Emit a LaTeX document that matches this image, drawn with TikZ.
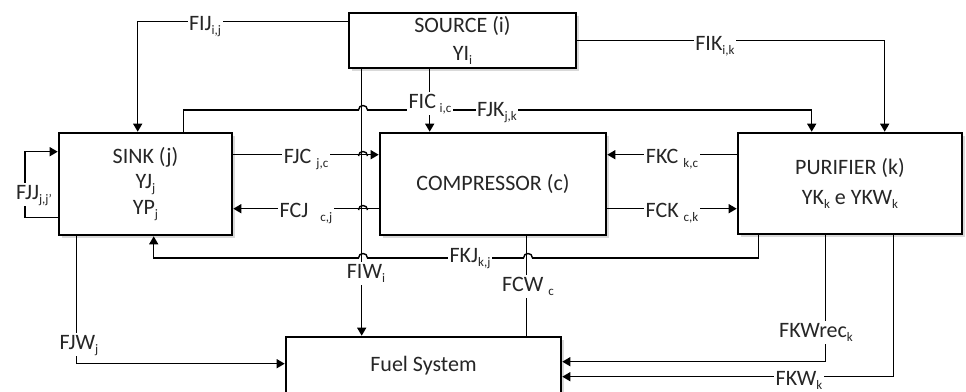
\documentclass[tikz,border=0pt]{standalone}
\usepackage{fontspec}
\setmainfont{Carlito}
\usetikzlibrary{arrows.meta,shadows}
\newcommand\sbs[1]{\raisebox{-4pt}{\fontsize{13}{13}\selectfont #1}}
\newcommand\hopat[2]{%
  \draw[white,line width=3pt] (#1-4,#2) -- (#1+4,#2);
  \draw[conn] (#1-4.5,#2) .. controls (#1-4.5,#2-6) and (#1+4.5,#2-6) .. (#1+4.5,#2);}
\begin{document}
\begin{tikzpicture}[x=1pt,y=-1pt,
  box/.style={draw, line width=2.6pt, fill=white, align=center, inner sep=0pt,
    drop shadow={shadow xshift=2.5pt,shadow yshift=-2.5pt,opacity=0.3},
    font=\fontsize{22}{26}\selectfont, text=black!85},
  conn/.style={line width=1.4pt},
  arr/.style={conn, -{Triangle[length=8pt,width=9pt]}},
  lbl/.style={fill=white, inner sep=1.5pt, text height=15pt, text depth=5pt,
    font=\fontsize{22}{24}\selectfont, text=black!85}]
\useasboundingbox (0,0) rectangle (966,391);
\clip (0,0) rectangle (966,391);

% boxes
\node[box, minimum width=227pt, minimum height=55pt] (src) at (462.5,40.5) {SOURCE (i)\\[2pt]YI\sbs{i}};
\node[box, minimum width=173pt, minimum height=102pt, font=\fontsize{22}{25.5}\selectfont] (sink) at (145.5,184) {SINK (j)\\YJ\sbs{j}\\YP\sbs{j}};
\node[box, minimum width=226pt, minimum height=102pt] (comp) at (493,184) {COMPRESSOR (c)};
\node[box, minimum width=224pt, minimum height=101pt] (pur) at (850,183.5) {PURIFIER (k)\\[4pt]YK\sbs{k} e YKW\sbs{k}};
\node[box, minimum width=275pt, minimum height=58pt] (fuel) at (423.5,366) {Fuel System};

% connectors
\draw[arr] ([yshift=-10pt]src.north west) -| ([xshift=80pt]sink.north west);
\draw[arr] ([yshift=-29pt]src.north east) -| ([xshift=148pt]pur.north west);
\draw[arr] ([xshift=82pt]src.south west) -- ([xshift=51pt]comp.north west);
\coordinate (jk) at (363,110);
\draw[arr] ([xshift=126pt]sink.north west) |- (jk) -| ([xshift=75pt]pur.north west);
\hopat{363}{110}
\draw[arr] ([yshift=-23pt]sink.north east) -- ([yshift=-23pt]comp.north west);
\hopat{363}{156}
\draw[arr] ([yshift=-77pt]comp.north west) -- ([yshift=-77pt]sink.north east);
\hopat{363}{210}
\draw[arr] ([yshift=-23pt]pur.north west) -- ([yshift=-23pt]comp.north east);
\draw[arr] ([yshift=-77pt]comp.north east) -- ([yshift=-77pt]pur.north west);
\coordinate (kj) at (600,258);
\draw[arr] ([xshift=22pt]pur.south west) |- (kj) -| ([xshift=96pt]sink.south west);
\hopat{528}{258}
\hopat{363}{258}
\draw[arr] ([xshift=14pt]src.south west) -- ([xshift=77pt]fuel.north west);
\draw[conn] ([xshift=148pt]comp.south west) -- ([xshift=242pt]fuel.north west);
\draw[arr] ([xshift=19pt]sink.south west) |- ([yshift=-28pt]fuel.north west);
\draw[arr] ([xshift=89pt]pur.south west) |- ([yshift=-26pt]fuel.north east);
\draw[arr] ([xshift=157pt]pur.south west) |- ([yshift=-41pt]fuel.north east);
\coordinate (jj) at (25,190);
\draw[arr] ([yshift=-86pt]sink.north west) -| (jj) |- ([yshift=-20pt]sink.north west);

% labels
\node[lbl] (lfij) at (205,25) {FIJ\sbs{i,j}};
\node[lbl] (lfik) at (715,45) {FIK\sbs{i,k}};
\node[lbl] (lfic) at (430,103) {FIC\,\sbs{i,c}};
\node[lbl] (lfjk) at (497,111) {FJK\sbs{j,k}};
\node[lbl] (lfjc) at (306,158) {FJC \sbs{j,c}};
\node[lbl] (lfcj) at (306,212) {FCJ\hspace{12pt}\sbs{c,j}};
\node[lbl] (lfkc) at (672,158) {FKC \sbs{k,c}};
\node[lbl] (lfck) at (672,212) {FCK \sbs{c,k}};
\node[lbl] (lfkj) at (470,257) {FKJ\sbs{k,j}};
\node[lbl] (lfiw) at (366,273) {FIW\sbs{i}};
\node[lbl] (lfcw) at (528,286) {FCW \sbs{c}};
\node[lbl] (lfjw) at (79,344) {FJW\sbs{j}};
\node[lbl] (lfkwr) at (816,332) {FKWrec\sbs{k}};
\node[lbl] (lfkw) at (799,380) {FKW\sbs{k}};
\node[lbl] (lfjj) at (34,194) {FJJ\sbs{j,j’}};
\end{tikzpicture}
\end{document}
